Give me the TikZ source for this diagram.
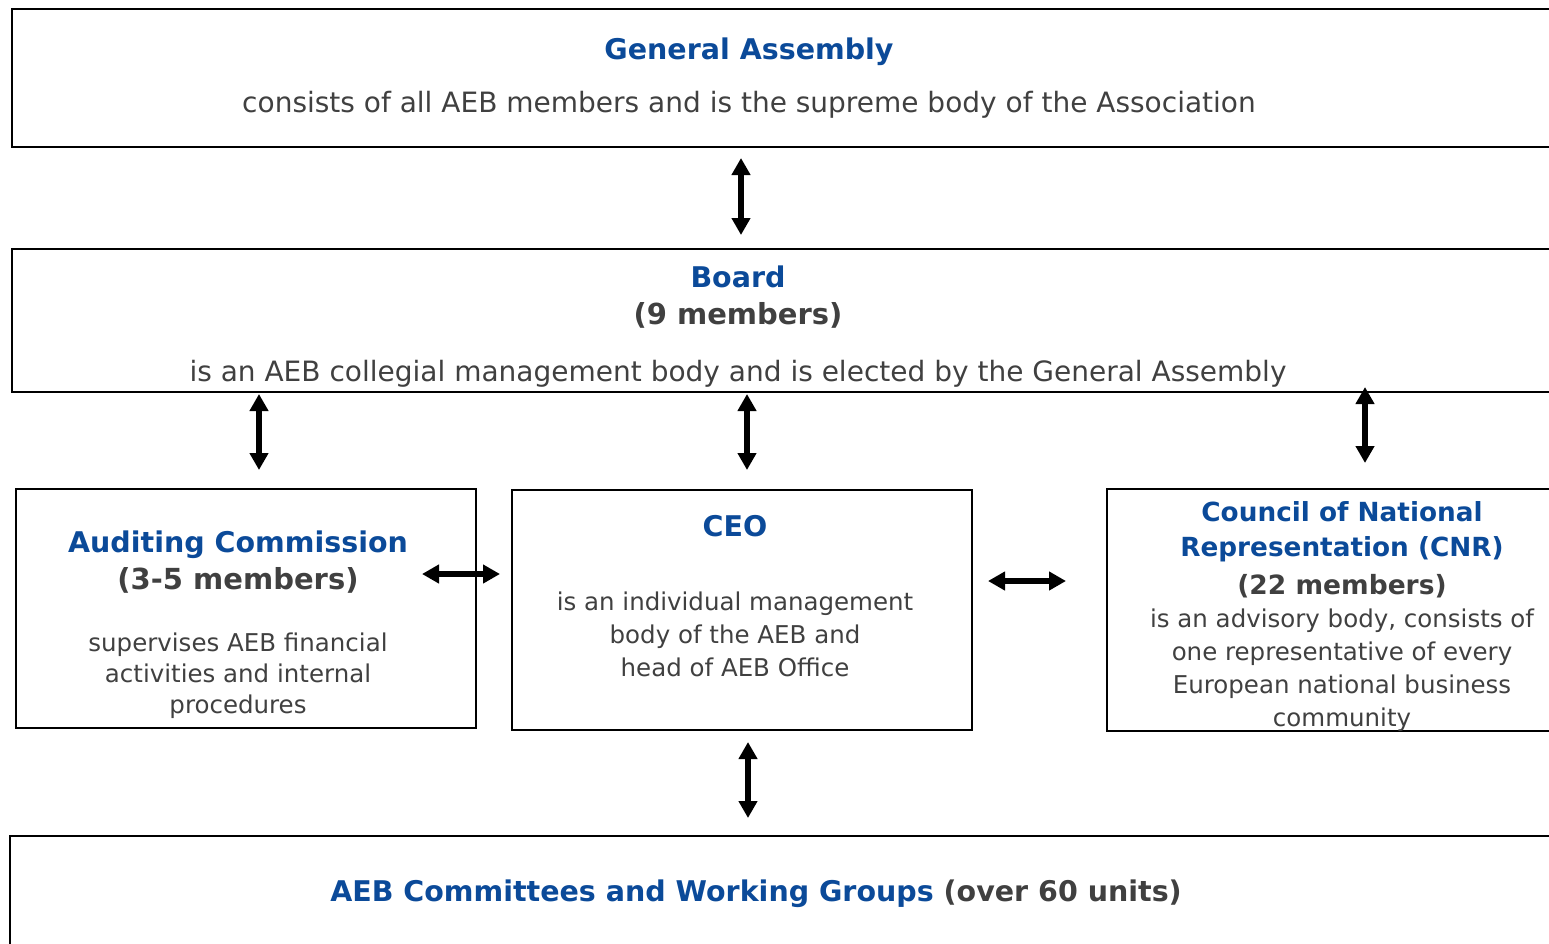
\documentclass[tikz,border=0pt]{standalone}
\usepackage{fontspec}
\setmainfont{DejaVu Sans}
\usetikzlibrary{arrows.meta}
\definecolor{aebblue}{RGB}{11,74,153}
\definecolor{aebgray}{RGB}{64,64,64}
\tikzset{
  box/.style={draw=black,line width=1.5pt},
  title/.style={text=aebblue,font=\fontsize{28.5}{35}\selectfont\bfseries,align=center,inner sep=0pt},
  count/.style={text=aebgray,font=\fontsize{29}{35}\selectfont\bfseries,align=center,inner sep=0pt},
  body/.style={text=aebgray,font=\fontsize{28}{32}\selectfont,inner sep=0pt},
  small/.style={text=aebgray,font=\fontsize{24.5}{33}\selectfont,align=center,inner sep=0pt},
  link/.style={line width=6.5pt,{Triangle[width=18pt,length=17pt]}-{Triangle[width=18pt,length=17pt]}}
}
\begin{document}
\begin{tikzpicture}[x=1pt,y=-1pt]
  \useasboundingbox (0,0) rectangle (1549,943);
  \clip (0,0) rectangle (1549,943);

  % boxes
  \draw[box] (12,9) rectangle (1570,147);
  \draw[box] (12,249) rectangle (1570,392);
  \draw[box] (16,489) rectangle (476,728);
  \draw[box] (512,490) rectangle (972,730);
  \draw[box] (1107,489) rectangle (1570,731);
  \draw[box] (10,836) rectangle (1570,960);

  % general assembly
  \node[title] (gaT) at (749,52) {General Assembly};
  \node[body]  (gaB) at (749,105) {consists of all AEB members and is the supreme body of the Association};

  % board
  \node[title] (bdT) at (738,277) {Board};
  \node[count] (bdC) at (738,315) {(9 members)};
  \node[body]  (bdB) at (738,374) {is an AEB collegial management body and is elected by the General Assembly};

  % auditing commission
  \node[title] (acT) at (238,545) {Auditing Commission};
  \node[count] (acC) at (238,580) {(3-5 members)};
  \node[small,font=\fontsize{24.5}{31}\selectfont] (acB) at (238,676) {supervises AEB financial\\activities and internal\\procedures};

  % ceo
  \node[title] (ceoT) at (735,526) {CEO};
  \node[small] (ceoB) at (735,634) {is an individual management\\body of the AEB and\\head of AEB Office};

  % cnr
  \node[title,font=\fontsize{26.3}{35}\selectfont\bfseries] (cnrT) at (1342,532) {Council of National\\Representation (CNR)};
  \node[count,font=\fontsize{26.5}{35}\selectfont\bfseries] (cnrC) at (1342,586) {(22 members)};
  \node[small] (cnrB) at (1342,670) {is an advisory body, consists of\\one representative of every\\European national business\\community};

  % committees
  \node[title] (cwT) at (756,894) {AEB Committees and Working Groups \textcolor{aebgray}{(over 60 units)}};

  % arrow ends
  \coordinate (a1) at (741,158);  \coordinate (b1) at (741,235);
  \coordinate (a2) at (259,394);  \coordinate (b2) at (259,470);
  \coordinate (a3) at (747,394);  \coordinate (b3) at (747,470);
  \coordinate (a4) at (1365,387); \coordinate (b4) at (1365,463);
  \coordinate (a5) at (422,574);  \coordinate (b5) at (500,574);
  \coordinate (a6) at (988,581);  \coordinate (b6) at (1066,581);
  \coordinate (a7) at (748,742);  \coordinate (b7) at (748,818);

  \foreach \from/\to in {a1/b1,a2/b2,a3/b3,a4/b4,a5/b5,a6/b6,a7/b7}
    \draw[link] (\from) -- (\to);

\end{tikzpicture}
\end{document}
